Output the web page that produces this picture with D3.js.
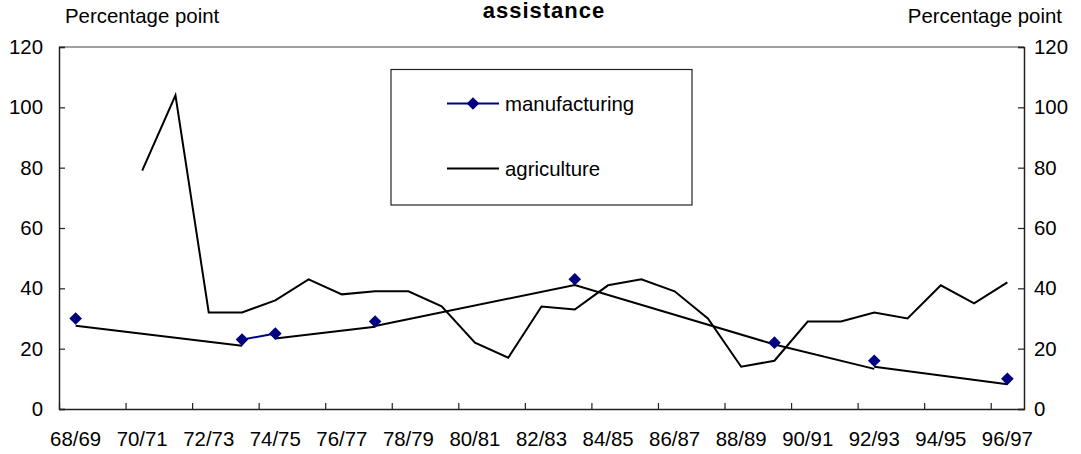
<!DOCTYPE html>
<html>
<head>
<meta charset="utf-8">
<script src="https://cdn.jsdelivr.net/npm/d3@7"></script>
<style>
  html, body { margin: 0; padding: 0; background: #fff; }
  svg { display: block; font-family: "Liberation Sans", Arial, sans-serif; }
</style>
</head>
<body>
<svg id="chart" width="1081" height="454"></svg>
<script>
// Financial years on the category axis
const years = ["68/69","69/70","70/71","71/72","72/73","73/74","74/75","75/76","76/77","77/78",
  "78/79","79/80","80/81","81/82","82/83","83/84","84/85","85/86","86/87","87/88",
  "88/89","89/90","90/91","91/92","92/93","93/94","94/95","95/96","96/97"];

// Agriculture assistance, percentage points (no data before 70/71)
const agriculture = [null, null, 79, 104, 32, 32, 36, 43, 38, 39,
  39, 34, 22, 17, 34, 33, 41, 43, 39, 30,
  14, 16, 29, 29, 32, 30, 41, 35, 42];

// Manufacturing assistance, measured in selected years only
const manufacturingYears = ["68/69","73/74","74/75","77/78","83/84","89/90","92/93","96/97"];
const manufacturingValues = [30, 23, 25, 29, 43, 22, 16, 10];

// Joined line through the manufacturing observations, drawn as separate pieces
const manufacturingTrend = [
  [["68/69", 27.6], ["73/74", 21.0]],
  [["74/75", 23.4], ["77/78", 27.3]],
  [["77/78", 27.5], ["83/84", 41.1], ["89/90", 21.4], ["92/93", 13.3]],
  [["92/93", 14.0], ["96/97", 8.2]]
];

const yTicks = [0, 20, 40, 60, 80, 100, 120];
const xLabelYears = years.filter((d, i) => i % 2 === 0);

const svg = d3.select("#chart");
const plot = { left: 59, right: 1024, top: 47, bottom: 409 };
const FONT = 20.4;

const x = d3.scaleBand().domain(years).range([plot.left, plot.right]).paddingInner(0).paddingOuter(0);
const cx = d => x(d) + x.bandwidth() / 2;
const xi = d3.scaleLinear().domain([0, years.length]).range([plot.left, plot.right]);
const y = d3.scaleLinear().domain([0, 120]).range([plot.bottom, plot.top]);

// Plot frame: grey top edge
svg.append("line")
  .attr("x1", plot.left).attr("x2", plot.right)
  .attr("y1", plot.top).attr("y2", plot.top)
  .attr("stroke", "#808080").attr("stroke-width", 1.5);

// Left value axis
const yLeft = svg.append("g").attr("transform", `translate(${plot.left},0)`)
  .call(d3.axisLeft(y).tickValues(yTicks).tickSize(-6).tickPadding(16).tickFormat(d3.format("d")));
// Right value axis
const yRight = svg.append("g").attr("transform", `translate(${plot.right},0)`)
  .call(d3.axisRight(y).tickValues(yTicks).tickSize(-6).tickPadding(10).tickFormat(d3.format("d")));
[yLeft, yRight].forEach(g => {
  g.select(".domain").attr("stroke", "#222").attr("stroke-width", 1.5);
  g.selectAll(".tick line").attr("stroke", "#222").attr("stroke-width", 1.2);
  g.selectAll("text").attr("font-size", FONT).attr("fill", "#000").attr("font-family", null);
});

// Category axis: tick marks at every second category boundary, pointing inward
const tickIdx = d3.range(0, years.length + 1, 2);
const xTickAxis = svg.append("g").attr("transform", `translate(0,${plot.bottom})`)
  .call(d3.axisBottom(xi).tickValues(tickIdx).tickSize(-6).tickSizeOuter(0).tickFormat(""));
xTickAxis.select(".domain").attr("stroke", "#222").attr("stroke-width", 1.5);
xTickAxis.selectAll(".tick line").attr("stroke", "#222").attr("stroke-width", 1.2);

// Category labels centred under every second year
const xLabelAxis = svg.append("g").attr("transform", `translate(0,${plot.bottom})`)
  .call(d3.axisBottom(x).tickValues(xLabelYears).tickSize(0).tickPadding(23));
xLabelAxis.select(".domain").remove();
xLabelAxis.selectAll("text").attr("font-size", FONT).attr("fill", "#000").attr("font-family", null);

// Axis unit captions
svg.append("text").attr("x", 65).attr("y", 23).attr("font-size", FONT).text("Percentage point");
svg.append("text").attr("x", 1062).attr("y", 23).attr("font-size", FONT)
  .attr("text-anchor", "end").text("Percentage point");

// Title (second line)
svg.append("text").attr("x", 544).attr("y", 17.5).attr("font-size", 22)
  .attr("font-weight", "bold").attr("letter-spacing", 1).attr("text-anchor", "middle")
  .text("assistance");

// Agriculture line
const agLine = d3.line().defined(d => d.v != null).x(d => cx(d.year)).y(d => y(d.v));
svg.append("path")
  .datum(years.map((yr, i) => ({ year: yr, v: agriculture[i] })))
  .attr("d", agLine).attr("fill", "none").attr("stroke", "#000").attr("stroke-width", 2)
  .attr("stroke-linejoin", "miter");

// Joined manufacturing line pieces
const trendLine = d3.line().x(d => cx(d[0])).y(d => y(d[1]));
svg.selectAll(".trend").data(manufacturingTrend).join("path")
  .attr("class", "trend")
  .attr("d", trendLine).attr("fill", "none").attr("stroke", "#000").attr("stroke-width", 2);

// Manufacturing series: navy line where observations are in consecutive years, plus markers
const mfgByYear = new Map(manufacturingYears.map((yr, i) => [yr, manufacturingValues[i]]));
const mfgSeries = years.map(yr => ({ year: yr, v: mfgByYear.has(yr) ? mfgByYear.get(yr) : null }));
svg.append("path")
  .datum(mfgSeries)
  .attr("d", d3.line().defined(d => d.v != null).x(d => cx(d.year)).y(d => y(d.v)))
  .attr("fill", "none").attr("stroke", "#000080").attr("stroke-width", 2);

const marker = d3.symbol().type(d3.symbolSquare).size(80);
svg.selectAll(".mfg").data(manufacturingYears.map((yr, i) => ({ year: yr, v: manufacturingValues[i] })))
  .join("path").attr("class", "mfg")
  .attr("transform", d => `translate(${cx(d.year)},${y(d.v)}) rotate(45)`)
  .attr("d", marker)
  .attr("fill", "#000080");

// Legend
const legend = svg.append("g");
legend.append("rect").attr("x", 391).attr("y", 69.5).attr("width", 301).attr("height", 135.5)
  .attr("fill", "#fff").attr("stroke", "#222").attr("stroke-width", 1.2);
legend.append("line").attr("x1", 447).attr("x2", 499).attr("y1", 103.5).attr("y2", 103.5)
  .attr("stroke", "#000080").attr("stroke-width", 2);
legend.append("path").attr("transform", "translate(473,103.5) rotate(45)")
  .attr("d", marker).attr("fill", "#000080");
legend.append("text").attr("x", 505).attr("y", 110.5).attr("font-size", FONT).text("manufacturing");
legend.append("line").attr("x1", 447).attr("x2", 499).attr("y1", 168.5).attr("y2", 168.5)
  .attr("stroke", "#000").attr("stroke-width", 2);
legend.append("text").attr("x", 505).attr("y", 175.5).attr("font-size", FONT).text("agriculture");
</script>
</body>
</html>
